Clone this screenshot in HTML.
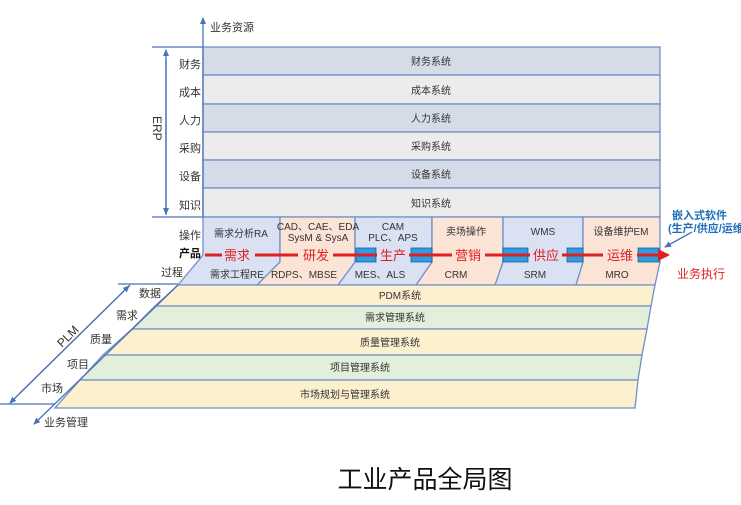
<!DOCTYPE html>
<html><head><meta charset="utf-8"><style>
body{margin:0;background:#fff}
svg{display:block}
text{font-family:"Liberation Sans","Noto Sans CJK SC",sans-serif;fill:#333}
</style></head><body>
<svg width="741" height="505" viewBox="0 0 741 505" xmlns="http://www.w3.org/2000/svg">
<defs>
<marker id="ab" markerWidth="8" markerHeight="8" refX="6" refY="4" orient="auto" markerUnits="userSpaceOnUse"><path d="M0,1 L7,4 L0,7 Z" fill="#4a72b8"/></marker>
<marker id="ar" markerWidth="14" markerHeight="14" refX="10" refY="6" orient="auto" markerUnits="userSpaceOnUse"><path d="M0,0 L12,6 L0,12 Z" fill="#e02020"/></marker>
</defs>
<g stroke="#6f8fc8" stroke-width="1.3">
<rect x="203" y="47" width="457" height="28" fill="#d5dce8"/>
<rect x="203" y="75" width="457" height="29" fill="#ececec"/>
<rect x="203" y="104" width="457" height="28" fill="#d5dce8"/>
<rect x="203" y="132" width="457" height="28" fill="#ececec"/>
<rect x="203" y="160" width="457" height="28" fill="#d5dce8"/>
<rect x="203" y="188" width="457" height="29" fill="#ececec"/>
<polygon points="203,217 280,217 280,262 265,285 178,285 203,255" fill="#d9e1f2"/>
<polygon points="280,217 355,217 355,262 340,285 257,285 280,262" fill="#fbe3d6"/>
<polygon points="355,217 432,217 432,262 418,285 338,285 355,262" fill="#d9e1f2"/>
<polygon points="432,217 503,217 503,262 496,285 416,285 432,262" fill="#fbe3d6"/>
<polygon points="503,217 583,217 583,262 577,285 495,285 503,262" fill="#d9e1f2"/>
<polygon points="583,217 660,217 660,262 655,285 576,285 583,262" fill="#fbe3d6"/>
<polygon points="178,285 655,285 651,306 155,306" fill="#fdf0cf"/>
<polygon points="155,306 651,306 647,329 132,329" fill="#e2efda"/>
<polygon points="132,329 647,329 642,355 103,355" fill="#fdf0cf"/>
<polygon points="103,355 642,355 638,380 80,380" fill="#e2efda"/>
<polygon points="80,380 638,380 635,408 55,408" fill="#fdf0cf"/>
</g>
<g stroke="#4a72b8" stroke-width="1.3" fill="none">
<line x1="152" y1="47" x2="203" y2="47"/>
<line x1="152" y1="217" x2="203" y2="217"/>
<line x1="203" y1="217" x2="203" y2="18" marker-end="url(#ab)"/>
<line x1="166" y1="215" x2="166" y2="50" marker-end="url(#ab)"/>
<line x1="166" y1="60" x2="166" y2="214" marker-end="url(#ab)"/>
<line x1="118" y1="284" x2="178" y2="284"/>
<line x1="0" y1="404" x2="55" y2="404"/>
<line x1="178" y1="285" x2="34" y2="424" marker-end="url(#ab)"/>
<line x1="130" y1="285" x2="10" y2="403" marker-end="url(#ab)"/>
<line x1="20" y1="393" x2="129" y2="286" marker-end="url(#ab)"/>
<line x1="692" y1="232" x2="665" y2="247" marker-end="url(#ab)"/>
</g>
<g fill="#2f9be0" stroke="#2060a0" stroke-width="0.8">
<rect x="356" y="248" width="20" height="14"/><rect x="411" y="248" width="21" height="14"/>
<rect x="503" y="248" width="25" height="14"/><rect x="567" y="248" width="16" height="14"/>
<rect x="638" y="248" width="21" height="14"/>
</g>
<g stroke="#e02020" stroke-width="3">
<line x1="205" y1="255" x2="222" y2="255"/>
<line x1="255" y1="255" x2="298" y2="255"/>
<line x1="333" y1="255" x2="377" y2="255"/>
<line x1="409" y1="255" x2="452" y2="255"/>
<line x1="485" y1="255" x2="530" y2="255"/>
<line x1="562" y1="255" x2="603" y2="255"/>
<line x1="637" y1="255" x2="668" y2="255" marker-end="url(#ar)"/>
</g>
<g font-size="13" text-anchor="middle">
<text x="237" y="260" style="fill:#e02020">需求</text>
<text x="316" y="260" style="fill:#e02020">研发</text>
<text x="393" y="260" style="fill:#e02020">生产</text>
<text x="468" y="260" style="fill:#e02020">营销</text>
<text x="546" y="260" style="fill:#e02020">供应</text>
<text x="620" y="260" style="fill:#e02020">运维</text>
</g>
<text x="677" y="278" font-size="12" style="fill:#e02020">业务执行</text>
<text x="672" y="219" font-size="11" font-weight="bold" style="fill:#1f6fb8">嵌入式软件</text>
<text x="668" y="232" font-size="11" font-weight="bold" style="fill:#1f6fb8">(生产/供应/运维</text>
<g font-size="10" text-anchor="middle">
<text x="431" y="65">财务系统</text><text x="431" y="94">成本系统</text>
<text x="431" y="122">人力系统</text><text x="431" y="150">采购系统</text>
<text x="431" y="178">设备系统</text><text x="431" y="207">知识系统</text>
<text x="241" y="237">需求分析RA</text>
<text x="318" y="230">CAD、CAE、EDA</text><text x="318" y="241">SysM &amp; SysA</text>
<text x="393" y="230">CAM</text><text x="393" y="241">PLC、APS</text>
<text x="466" y="235">卖场操作</text><text x="543" y="235">WMS</text><text x="621" y="235">设备维护EM</text>
<text x="237" y="278">需求工程RE</text><text x="304" y="278">RDPS、MBSE</text>
<text x="380" y="278">MES、ALS</text><text x="456" y="278">CRM</text>
<text x="535" y="278">SRM</text><text x="617" y="278">MRO</text>
<text x="400" y="299">PDM系统</text><text x="395" y="321">需求管理系统</text>
<text x="390" y="346">质量管理系统</text><text x="360" y="371">项目管理系统</text>
<text x="345" y="398">市场规划与管理系统</text>
</g>
<g font-size="11" text-anchor="middle">
<text x="190" y="68">财务</text><text x="190" y="96">成本</text><text x="190" y="124">人力</text>
<text x="190" y="152">采购</text><text x="190" y="180">设备</text><text x="190" y="209">知识</text>
<text x="190" y="239">操作</text><text x="190" y="257" font-weight="bold" style="fill:#111">产品</text>
<text x="172" y="276">过程</text>
<text x="150" y="297">数据</text><text x="127" y="319">需求</text><text x="101" y="343">质量</text>
<text x="78" y="368">项目</text><text x="52" y="392">市场</text>
<text x="232" y="31">业务资源</text><text x="66" y="426">业务管理</text>
</g>
<text x="0" y="0" font-size="12" transform="translate(153,116) rotate(90)">ERP</text>
<text x="0" y="0" font-size="12" transform="translate(62,348) rotate(-45)">PLM</text>
<text x="425" y="488" font-size="25" text-anchor="middle" style="fill:#111">工业产品全局图</text>
</svg>
</body></html>
